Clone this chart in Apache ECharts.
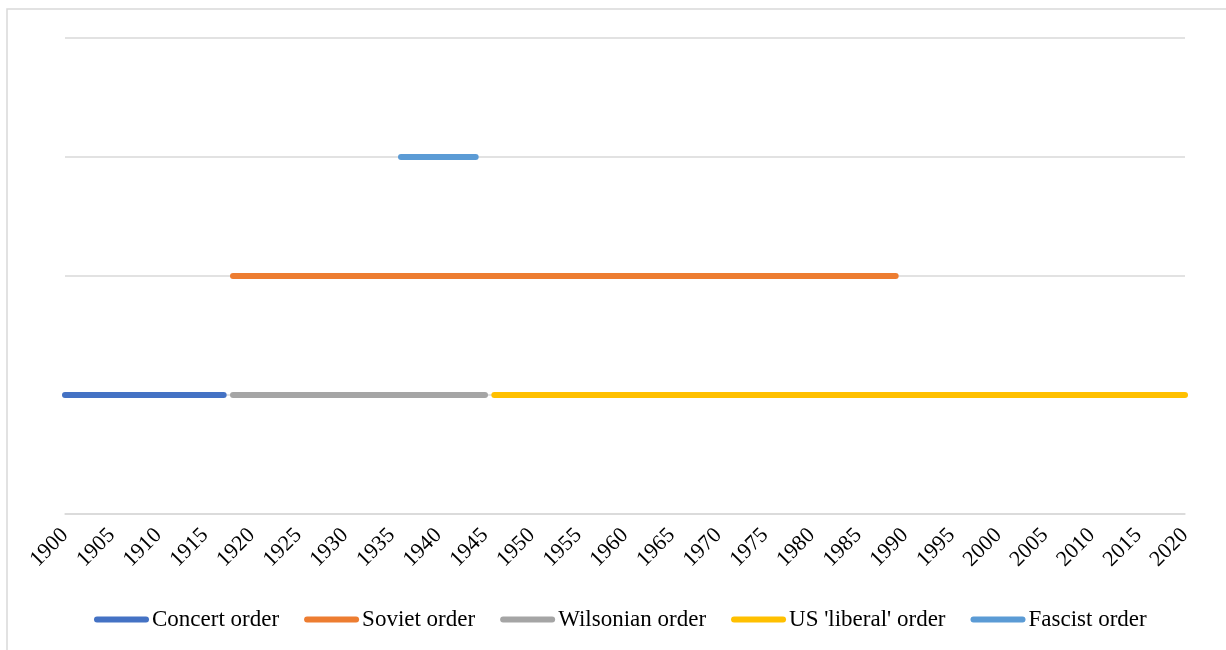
<!DOCTYPE html>
<html>
<head>
<meta charset="utf-8">
<script src="https://cdn.jsdelivr.net/npm/echarts@6/dist/echarts.min.js"></script>
<style>
  html, body { margin: 0; padding: 0; background: #fff; }
  #chart { width: 1226px; height: 650px; }
</style>
</head>
<body>
<div id="chart"></div>
<script>
// World orders and the years each one spans
const orders    = ['Concert order', 'Soviet order', 'Wilsonian order', "US 'liberal' order", 'Fascist order'];
const startYear = [1900, 1918, 1918, 1946, 1936];
const endYear   = [1917, 1989, 1945, 2020, 1944];
const level     = [1, 2, 1, 1, 3];
const colors    = ['#4472C4', '#ED7D31', '#A5A5A5', '#FFC000', '#5B9BD5'];

const yearMin = 1900, yearMax = 2020, yearStep = 5;

const font = '"Liberation Serif", "DejaVu Serif", serif';
const pill = 'path://M3,0 L52,0 A3,3 0 0 1 52,6 L3,6 A3,3 0 0 1 3,0 Z';

const chart = echarts.init(document.getElementById('chart'), null, { renderer: 'canvas' });

const series = orders.map((name, i) => ({
  name: name,
  type: 'line',
  showSymbol: false,
  symbol: 'none',
  color: colors[i],
  lineStyle: { width: 6, cap: 'round', color: colors[i] },
  data: [[startYear[i], level[i]], [endYear[i], level[i]]],
  animation: false,
  z: 3
}));

chart.setOption({
  backgroundColor: '#fff',
  animation: false,
  graphic: [{
    type: 'rect',
    shape: { x: 7, y: 9, width: 1240, height: 660 },
    style: { fill: 'none', stroke: '#d9d9d9', lineWidth: 1.5 },
    silent: true
  }],
  grid: { left: 65, right: 41, top: 38, bottom: 136 },
  legend: {
    bottom: 14,
    left: 89,
    itemWidth: 55,
    itemHeight: 6,
    itemGap: 25,
    textStyle: { fontFamily: font, fontSize: 23, color: '#000', padding: [0, 0, 0, -2] },
    data: orders.map((name, i) => ({ name: name, icon: pill, itemStyle: { color: colors[i] } }))
  },
  xAxis: {
    type: 'value',
    min: yearMin,
    max: yearMax,
    interval: yearStep,
    axisLine: { show: true, lineStyle: { color: '#d9d9d9', width: 1.5 } },
    axisTick: { show: false },
    splitLine: { show: false },
    axisLabel: {
      rotate: 45,
      margin: 18,
      fontFamily: font,
      fontSize: 22,
      color: '#000',
      formatter: v => String(v)
    }
  },
  yAxis: {
    type: 'value',
    min: 0,
    max: 4,
    interval: 1,
    axisLine: { show: false },
    axisTick: { show: false },
    axisLabel: { show: false },
    splitLine: { show: true, lineStyle: { color: '#d9d9d9', width: 1.5 } }
  },
  series: series
});
</script>
</body>
</html>
